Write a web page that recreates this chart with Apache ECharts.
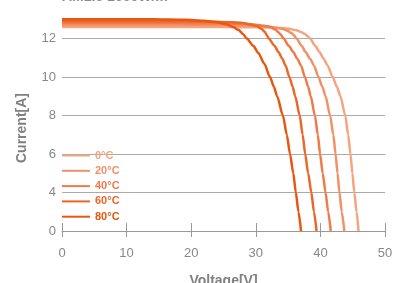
<!DOCTYPE html>
<html>
<head>
<meta charset="utf-8">
<script src="https://cdn.jsdelivr.net/npm/echarts@6/dist/echarts.min.js"></script>
<style>
  html, body { margin: 0; padding: 0; background: #fff; }
  #chart { width: 393px; height: 283px; }
</style>
</head>
<body>
<div id="chart"></div>
<script>
// temperatures (legend), read top to bottom
var temps = ['0°C', '20°C', '40°C', '60°C', '80°C']
var colors = ['#f5a47f', '#f39068', '#f07a48', '#ec6628', '#e85610']

// I-V curves, [voltage, current]
var curve0 = [[0, 12.6], [20, 12.6], [28, 12.59], [32, 12.57], [34, 12.54], [35.3, 12.49], [36.3, 12.43], [37.0, 12.34], [37.6, 12.23], [38.0, 12.13], [38.4, 12.0], [39.2, 11.62], [39.85, 11.3], [40.5, 10.95], [41.1, 10.6], [41.9, 10.0], [42.55, 9.5], [43.1, 9.0], [43.85, 8.0], [44.3, 7.0], [44.65, 6.0], [44.95, 5.0], [45.25, 4.0], [45.6, 3.0], [45.9, 2.0]]
var curve20 = [[0, 12.7], [20, 12.7], [26, 12.69], [30, 12.66], [32, 12.62], [33.2, 12.56], [34.2, 12.49], [34.9, 12.4], [35.5, 12.28], [35.9, 12.17], [36.3, 12.0], [37.1, 11.62], [37.7, 11.3], [38.4, 10.95], [39.0, 10.6], [39.7, 10.0], [40.3, 9.5], [40.8, 9.0], [41.5, 8.0], [42.0, 7.0], [42.35, 6.0], [42.65, 5.0], [42.95, 4.0], [43.3, 3.0], [43.7, 2.0]]
var curve40 = [[0, 12.8], [18, 12.8], [24, 12.79], [28, 12.76], [30, 12.72], [31.3, 12.66], [32.3, 12.58], [33.0, 12.47], [33.5, 12.33], [33.9, 12.18], [34.3, 12.0], [35.1, 11.62], [35.8, 11.3], [36.4, 10.95], [37.0, 10.6], [37.6, 10.0], [38.1, 9.5], [38.5, 9.0], [39.15, 8.0], [39.6, 7.0], [39.95, 6.0], [40.35, 5.0], [40.8, 4.0], [41.2, 3.0], [41.6, 2.0]]
var curve60 = [[0, 12.9], [16, 12.9], [22, 12.88], [26, 12.85], [28, 12.8], [29.2, 12.73], [30.2, 12.63], [30.9, 12.5], [31.4, 12.34], [31.7, 12.18], [32.0, 12.0], [32.9, 11.62], [33.5, 11.3], [34.1, 10.95], [34.6, 10.6], [35.2, 10.0], [35.7, 9.5], [36.1, 9.0], [36.8, 8.0], [37.25, 7.0], [37.65, 6.0], [38.1, 5.0], [38.6, 4.0], [39.0, 3.0], [39.4, 2.0]]
var curve80 = [[0, 13.0], [14, 13.0], [19, 12.97], [22, 12.92], [24, 12.84], [25.4, 12.74], [26.5, 12.6], [27.3, 12.45], [28.0, 12.24], [28.6, 12.0], [29.6, 11.62], [30.4, 11.25], [31.3, 10.7], [32.2, 10.0], [32.8, 9.5], [33.3, 9.0], [34.2, 8.0], [34.8, 7.0], [35.3, 6.0], [35.8, 5.0], [36.2, 4.0], [36.6, 3.0], [37.0, 2.0]]
var curves = [curve0, curve20, curve40, curve60, curve80]

var chart = echarts.init(document.getElementById('chart'))

chart.setOption({
  animation: false,
  textStyle: { fontFamily: 'Arial' },
  title: {
    text: 'AM1.5 1000W/m²',
    left: 62,
    top: -10,
    padding: 0,
    textStyle: { fontSize: 14, fontWeight: 'bold', color: '#8a8a8a' }
  },
  grid: { left: 62, right: 8, top: 0, bottom: 52, outerBoundsMode: 'none' },
  legend: {
    orient: 'vertical',
    left: 62,
    top: 148,
    padding: 0,
    itemWidth: 28,
    itemHeight: 2,
    itemGap: 0.3,
    icon: 'rect',
    textStyle: { fontSize: 11, fontWeight: 'bold', lineHeight: 15 },
    data: temps.map(function (t, i) {
      return { name: t, textStyle: { color: colors[i] } }
    })
  },
  xAxis: [
    {
      type: 'value',
      min: 0,
      max: 50,
      interval: 10,
      name: 'Voltage[V]',
      nameLocation: 'middle',
      nameGap: 43,
      nameTextStyle: { fontSize: 14, fontWeight: 'bold', color: '#808080' },
      axisLine: { lineStyle: { color: '#999', width: 1 } },
      axisTick: { length: 6, lineStyle: { color: '#999' } },
      axisLabel: { fontSize: 13, color: '#888', margin: 16 },
      splitLine: { show: false }
    },
    {
      // ticks that poke up above the axis
      type: 'value',
      min: 0,
      max: 50,
      interval: 10,
      position: 'bottom',
      axisLine: { show: false },
      axisTick: { inside: true, length: 8, lineStyle: { color: '#999' } },
      axisLabel: { show: false },
      splitLine: { show: false }
    }
  ],
  yAxis: {
    type: 'value',
    min: 2,
    max: 14,
    interval: 2,
    axisLine: { show: false },
    axisTick: { show: false },
    axisLabel: {
      fontSize: 13,
      color: '#888',
      margin: 6,
      showMaxLabel: false,
      formatter: function (v) { return v === 2 ? '0' : v }
    },
    splitLine: { showMaxLine: false, showMinLine: false, lineStyle: { color: '#aaa', width: 1 } }
  },
  graphic: [
    {
      type: 'text',
      x: 22,
      y: 128,
      rotation: Math.PI / 2,
      style: {
        text: 'Current[A]',
        align: 'center',
        verticalAlign: 'middle',
        font: 'bold 14px Arial',
        fill: '#808080'
      }
    }
  ],
  series: temps.map(function (t, i) {
    return {
      name: t,
      type: 'line',
      data: curves[i],
      smooth: 0.25,
      smoothMonotone: 'x',
      showSymbol: false,
      symbol: 'none',
      lineStyle: { color: colors[i], width: 2.5 },
      itemStyle: { color: colors[i] },
      z: 2 + i
    }
  })
})
</script>
</body>
</html>
